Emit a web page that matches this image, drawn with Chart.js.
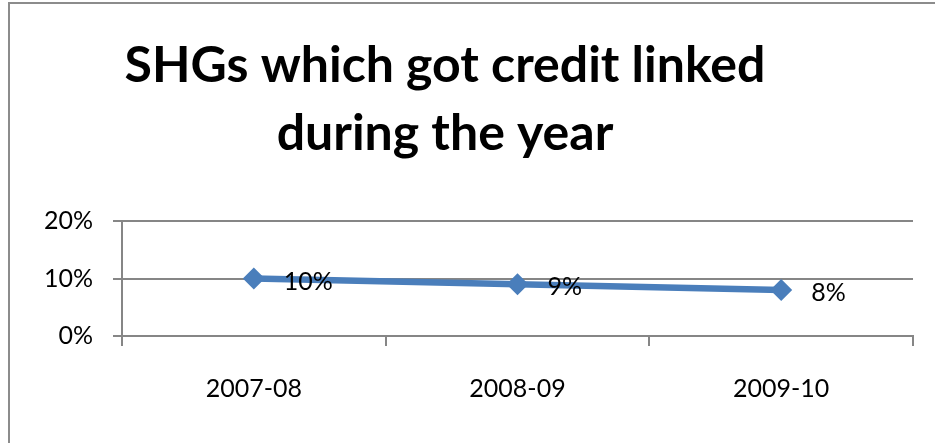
<!DOCTYPE html>
<html>
<head>
<meta charset="utf-8">
<script src="https://cdn.jsdelivr.net/npm/chart.js@4"></script>
<style>
  html, body { margin: 0; padding: 0; background: #fff; overflow: hidden; }
  #wrap { position: relative; width: 935px; height: 443px; }
  #frame { position: absolute; left: 8px; top: 2px; width: 1000px; height: 600px;
           border: 2px solid #8c8c8c; box-sizing: border-box; }
  #chart { position: absolute; left: 0; top: 0; }
</style>
</head>
<body>
<div id="wrap">
  <div id="frame"></div>
  <canvas id="chart" width="935" height="443"></canvas>
</div>
<script>
  // data
  const years = ['2007-08', '2008-09', '2009-10'];
  const shgShare = [0.10, 0.09, 0.08];
  const yTicks = [0, 0.1, 0.2];
  const titleLines = ['SHGs which got credit linked', 'during the year'];

  const FONT = 'Lato, "Liberation Sans", sans-serif';
  const blue = '#4a7ebb';
  const grey = '#868686';

  const pct = v => Math.round(v * 100) + '%';

  // title drawn left of canvas centre, like the original
  const titlePlugin = {
    id: 'sheetTitle',
    afterDraw(chart) {
      const { ctx } = chart;
      ctx.save();
      ctx.fillStyle = '#000';
      ctx.font = 'bold 50px ' + FONT;
      ctx.textAlign = 'center';
      ctx.textBaseline = 'alphabetic';
      ctx.fillText(titleLines[0], 445, 82);
      ctx.fillText(titleLines[1], 445, 150);
      ctx.restore();
    }
  };

  const labelPlugin = {
    id: 'pointLabels',
    afterDatasetsDraw(chart) {
      const { ctx } = chart;
      const meta = chart.getDatasetMeta(0);
      ctx.save();
      ctx.fillStyle = '#000';
      ctx.font = '25px ' + FONT;
      ctx.textAlign = 'left';
      ctx.textBaseline = 'middle';
      meta.data.forEach((pt, i) => {
        ctx.fillText(pct(shgShare[i]), pt.x + 30, pt.y + 3);
      });
      ctx.restore();
    }
  };

  new Chart(document.getElementById('chart'), {
    type: 'line',
    data: {
      labels: years,
      datasets: [{
        data: shgShare,
        borderColor: blue,
        backgroundColor: blue,
        borderWidth: 6.5,
        pointStyle: 'rectRot',
        pointRadius: 11,
        pointHoverRadius: 11,
        pointBorderWidth: 0,
        tension: 0
      }]
    },
    options: {
      responsive: false,
      animation: false,
      layout: { padding: { top: 221, right: 22, left: 0, bottom: 0 } },
      plugins: {
        legend: { display: false },
        tooltip: { enabled: false },
        title: { display: false }
      },
      scales: {
        x: {
          offset: true,
          grid: { offset: true, drawOnChartArea: false, color: grey, lineWidth: 2, tickLength: 10 },
          border: { color: grey, width: 2 },
          ticks: { color: '#000', font: { family: FONT, size: 25 }, padding: 28 },
          afterFit(s) { s.height = 107; }
        },
        y: {
          min: 0,
          max: 0.2,
          afterBuildTicks(s) { s.ticks = yTicks.map(v => ({ value: v })); },
          grid: { color: grey, lineWidth: 2, tickLength: 9 },
          border: { color: grey, width: 2 },
          ticks: { color: '#000', font: { family: FONT, size: 25 }, padding: 20, callback: v => pct(v) },
          afterFit(s) { s.width = 122; }
        }
      }
    },
    plugins: [titlePlugin, labelPlugin]
  });
</script>
</body>
</html>
